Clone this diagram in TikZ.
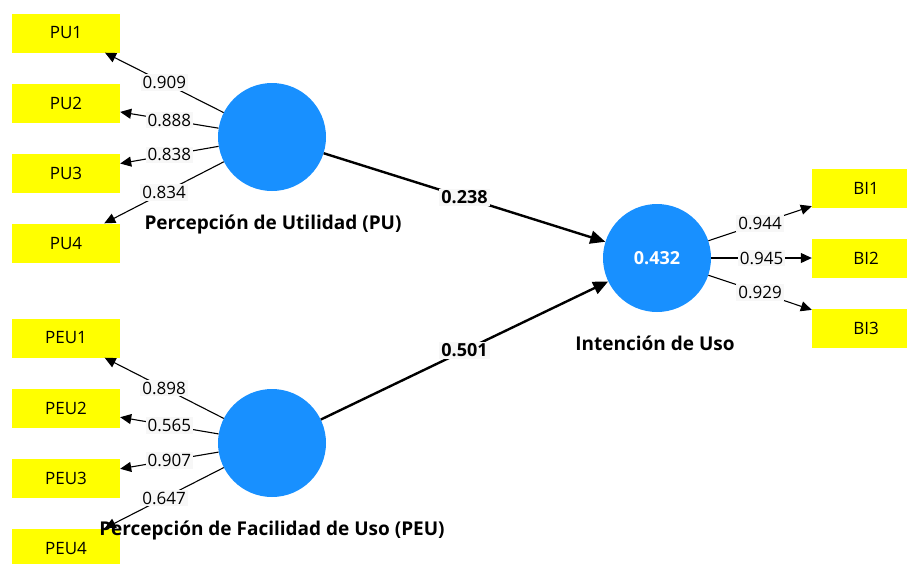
\documentclass[tikz,border=0pt]{standalone}
\usepackage{fontspec}
\setmainfont{Open Sans}
\usetikzlibrary{shapes,positioning,arrows.meta}
\definecolor{lvblue}{RGB}{24,144,255}
\definecolor{mvyellow}{RGB}{255,255,0}

\begin{document}
\begin{tikzpicture}[
    x=1pt,y=-1pt,
    node distance=70pt,
    >={Triangle[length=11pt,width=10pt]},
    lv/.style={circle,fill=lvblue,inner sep=0pt,minimum size=108pt,text=white,font=\fontsize{18}{21}\selectfont\bfseries},
    mv/.style={rectangle,fill=mvyellow,inner sep=0pt,minimum width=108pt,minimum height=39pt,font=\fontsize{17}{20}\selectfont},
    lvname/.style={font=\fontsize{19}{22}\selectfont\bfseries},
    ld/.style={fill=black!3,inner sep=2pt,font=\fontsize{17}{20}\selectfont},
    coef/.style={fill=black!3,inner sep=2pt,font=\fontsize{18}{21}\selectfont\bfseries},
    ind/.style={->,line width=1.1pt},
    str/.style={-{Triangle[length=15pt,width=13pt]},line width=2.4pt}
    ]
        \useasboundingbox (0,0) rectangle (907,563);
        \node [lv](PU) at (272,137) {};
        \node [lv](PEU) at (272,443) {};
        \node [lv](BI) at (657,258) {0.432};
        \node [mv](PU1) at (66,33) {PU1};
        \node [mv](PU2) [below of=PU1] {PU2};
        \node [mv](PU3) [below of=PU2] {PU3};
        \node [mv](PU4) [below of=PU3] {PU4};
        \node [mv](PEU1) at (66,338) {PEU1};
        \node [mv](PEU2) [below of=PEU1] {PEU2};
        \node [mv](PEU3) [below of=PEU2] {PEU3};
        \node [mv](PEU4) [below of=PEU3] {PEU4};
        \node [mv](BI1) at (866,188) {BI1};
        \node [mv](BI2) [below of=BI1] {BI2};
        \node [mv](BI3) [below of=BI2] {BI3};
        \draw [ind] (PU) edge node[ld]{0.909} (PU1);
        \draw [ind] (PU) edge node[ld]{0.888} (PU2);
        \draw [ind] (PU) edge node[ld]{0.838} (PU3);
        \draw [ind] (PU) edge node[ld]{0.834} (PU4);
        \draw [ind] (PEU) edge node[ld]{0.898} (PEU1);
        \draw [ind] (PEU) edge node[ld]{0.565} (PEU2);
        \draw [ind] (PEU) edge node[ld]{0.907} (PEU3);
        \draw [ind] (PEU) edge node[ld]{0.647} (PEU4);
        \draw [ind] (BI) edge node[ld]{0.944} (BI1);
        \draw [ind] (BI) edge node[ld]{0.945} (BI2);
        \draw [ind] (BI) edge node[ld]{0.929} (BI3);
        \draw [str] (PU) edge node[coef]{0.238} (BI);
        \draw [str] (PEU) edge node[coef]{0.501} (BI);
        \node [lvname](PUname) at (273,224) {Percepción de Utilidad (PU)};
        \node [lvname](PEUname) at (272,530) {Percepción de Facilidad de Uso (PEU)};
        \node [lvname](BIname) at (655,343) {Intención de Uso};
\end{tikzpicture}
\end{document}
